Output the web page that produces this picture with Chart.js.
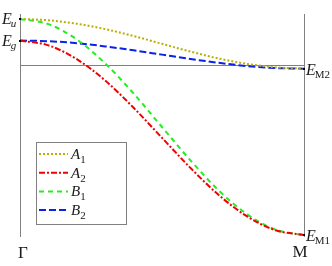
<!DOCTYPE html>
<html>
<head>
<meta charset="utf-8">
<script src="https://cdn.jsdelivr.net/npm/chart.js@4.4.1/dist/chart.umd.min.js"></script>
<style>
  html, body { margin: 0; padding: 0; background: #fff; }
  #wrap { width: 332px; height: 266px; }
</style>
</head>
<body>
<div id="wrap"><canvas id="bandChart"></canvas></div>
<script>
// k along Gamma -> M (fraction of the path)
const kPath = [0, 0.1, 0.2, 0.3, 0.4, 0.5, 0.6, 0.7, 0.8, 0.9, 1.0];

// band energies (E_M1 = 0, E_u = 1)
const bandA1 = [1.000, 0.994, 0.978, 0.953, 0.921, 0.885, 0.849, 0.817, 0.792, 0.776, 0.770];
const bandA2 = [0.900, 0.878, 0.814, 0.715, 0.589, 0.450, 0.311, 0.185, 0.086, 0.022, 0.000];
const bandB1 = [1.000, 0.976, 0.905, 0.794, 0.655, 0.500, 0.346, 0.206, 0.096, 0.025, 0.000];
const bandB2 = [0.900, 0.897, 0.888, 0.873, 0.855, 0.835, 0.815, 0.797, 0.782, 0.773, 0.770];

const seriesNames = ['A', 'A', 'B', 'B'];
const seriesSubs = ['1', '2', '1', '2'];

// level labels
const leftLevels = [{ sub: 'u', value: 1.0 }, { sub: 'g', value: 0.9 }];
const rightLevels = [{ sub: 'M2', value: 0.770 }, { sub: 'M1', value: 0.0 }];
const refLevel = 0.787;
const kLabels = ['\u0393', 'M'];

const serif = '"Liberation Serif", "DejaVu Serif", serif';

function drawE(ctx, sub, x, y, subItalic) {
  ctx.textAlign = 'left';
  ctx.textBaseline = 'alphabetic';
  ctx.fillStyle = '#1a1a1a';
  ctx.font = 'italic 16px ' + serif;
  ctx.fillText('E', x, y);
  const w = ctx.measureText('E').width;
  ctx.font = (subItalic ? 'italic ' : '') + '11px ' + serif;
  ctx.fillText(sub, x + w - 1, y + 3);
}

const framePlugin = {
  id: 'frame',
  beforeDatasetsDraw(chart) {
    const { ctx, chartArea: a, scales } = chart;
    ctx.save();
    ctx.strokeStyle = '#808080';
    ctx.lineWidth = 1;
    const yr = Math.round(scales.y.getPixelForValue(refLevel)) + 0.5;
    ctx.beginPath();
    ctx.moveTo(a.left, yr);
    ctx.lineTo(a.right, yr);
    ctx.moveTo(a.left + 0.5, a.top);
    ctx.lineTo(a.left + 0.5, a.bottom);
    ctx.moveTo(a.right + 0.5, a.top);
    ctx.lineTo(a.right + 0.5, a.bottom);
    ctx.stroke();
    ctx.restore();
  },
  afterDatasetsDraw(chart) {
    const { ctx, chartArea: a, scales } = chart;
    ctx.save();
    // level labels
    leftLevels.forEach(l => {
      const y = scales.y.getPixelForValue(l.value);
      ctx.fillStyle = '#000';
      ctx.fillRect(a.left - 1, Math.round(y) - 1, 2, 2);
      drawE(ctx, l.sub, 2, y + 5, true);
    });
    rightLevels.forEach(l => {
      const y = scales.y.getPixelForValue(l.value);
      ctx.fillStyle = '#000';
      ctx.fillRect(a.right - 1, Math.round(y) - 1, 2, 2);
      drawE(ctx, l.sub, a.right + 2, y + 6, false);
    });
    // k labels
    ctx.font = '17px ' + serif;
    ctx.fillStyle = '#1a1a1a';
    ctx.textAlign = 'center';
    ctx.textBaseline = 'alphabetic';
    ctx.fillText(kLabels[0], scales.x.getPixelForValue(0) + 3, 258);
    ctx.fillText(kLabels[1], scales.x.getPixelForValue(1) - 4, 257);

    // legend box
    const bx = 36, by = 142, bw = 90, bh = 82;
    ctx.fillStyle = '#fff';
    ctx.fillRect(bx, by, bw, bh);
    ctx.strokeStyle = '#808080';
    ctx.lineWidth = 1;
    ctx.strokeRect(bx + 0.5, by + 0.5, bw, bh);
    chart.data.datasets.forEach((ds, i) => {
      const y = by + 12 + i * 18.7;
      ctx.strokeStyle = ds.borderColor;
      ctx.lineWidth = ds.borderWidth;
      ctx.setLineDash(ds.borderDash);
      ctx.beginPath();
      ctx.moveTo(bx + 3, y);
      ctx.lineTo(bx + 32, y);
      ctx.stroke();
      ctx.setLineDash([]);
      ctx.fillStyle = '#1a1a1a';
      ctx.textAlign = 'left';
      ctx.font = 'italic 15px ' + serif;
      ctx.fillText(seriesNames[i], bx + 35, y + 5);
      const w = ctx.measureText(seriesNames[i]).width;
      ctx.font = '11px ' + serif;
      ctx.fillText(seriesSubs[i], bx + 35 + w, y + 9);
    });
    ctx.restore();
  }
};

function toPoints(vals) {
  return vals.map((v, i) => ({ x: kPath[i], y: v }));
}

new Chart(document.getElementById('bandChart'), {
  type: 'line',
  data: {
    datasets: [
      { label: 'A1', data: toPoints(bandA1), borderColor: '#b8b000', borderWidth: 2, borderDash: [2, 2] },
      { label: 'A2', data: toPoints(bandA2), borderColor: '#f00000', borderWidth: 2, borderDash: [6, 2, 2, 2] },
      { label: 'B1', data: toPoints(bandB1), borderColor: '#22ee22', borderWidth: 2, borderDash: [5, 4] },
      { label: 'B2', data: toPoints(bandB2), borderColor: '#0a22e8', borderWidth: 2, borderDash: [7, 3] }
    ]
  },
  options: {
    responsive: true,
    maintainAspectRatio: false,
    animation: false,
    layout: { padding: { left: 20, right: 28, top: 14, bottom: 29 } },
    elements: {
      point: { radius: 0 },
      line: { cubicInterpolationMode: 'monotone', fill: false }
    },
    scales: {
      x: { type: 'linear', min: 0, max: 1, display: false },
      y: { min: -0.009, max: 1.023, display: false }
    },
    plugins: {
      legend: { display: false },
      tooltip: { enabled: false }
    }
  },
  plugins: [framePlugin]
});
</script>
</body>
</html>
